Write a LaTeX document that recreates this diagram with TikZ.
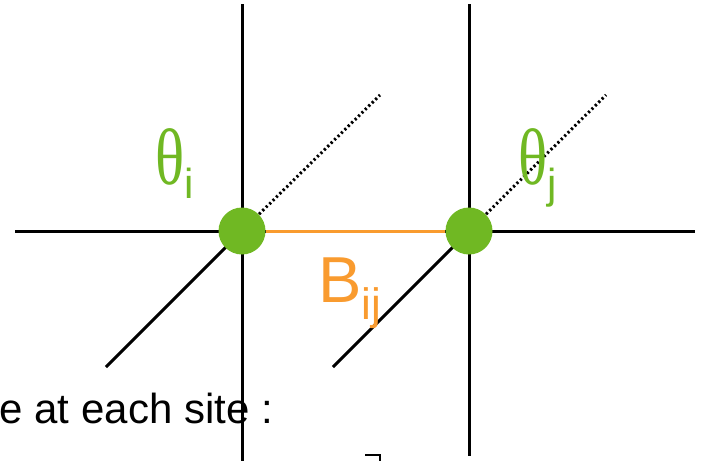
\documentclass[tikz,border=0pt]{standalone}
\usepackage{fontspec}
\setmainfont{Liberation Sans}
\newfontfamily\greekfont[FakeStretch=0.76]{Liberation Serif}
\usetikzlibrary{positioning}
\definecolor{SiteGreen}{HTML}{70B823}
\definecolor{BondOrange}{HTML}{F99B2F}
\definecolor{Ink}{HTML}{000000}

\begin{document}
\begin{tikzpicture}[x=1pt,y=-1pt,
    site/.style={circle,fill=SiteGreen,minimum size=47pt,inner sep=0pt},
    lattice/.style={Ink,line width=3pt},
    depth/.style={Ink,line width=3pt,dash pattern=on 2.2pt off 2.6pt},
    label/.style={anchor=base west,inner sep=0pt}]
    \useasboundingbox (0,0) rectangle (706,461);
    % lattice sites and the lines through them
    \coordinate (ci) at (242,231);
    \coordinate (cj) at (469,231);
    \coordinate (topi) at (242,4);
    \coordinate (boti) at (242,461);
    \coordinate (topj) at (469,4);
    \coordinate (botj) at (469,456);
    \coordinate (west) at (15,231);
    \coordinate (east) at (695,231);
    \coordinate (fronti) at (106,367);
    \coordinate (backi) at (380,95);
    \coordinate (frontj) at (333,367);
    \coordinate (backj) at (606,95);
    \draw[lattice] (west) -- (east);
    \foreach \s in {i,j}{
      \draw[lattice] (top\s) -- (bot\s);
      \draw[lattice] (front\s) -- (c\s);
      \draw[depth] (c\s) -- (back\s);
    }
    \node[site] (si) at (ci) {};
    \node[site] (sj) at (cj) {};
    \draw[BondOrange,line width=3pt] (si) -- (sj);
    % labels
    \node[label,text=SiteGreen,font=\fontsize{80}{80}\selectfont] (thi) at (155,184)
      {{\greekfont θ}\raisebox{-14pt}{\fontsize{42}{42}\selectfont i}};
    \node[label,text=SiteGreen,font=\fontsize{80}{80}\selectfont] (thj) at (518,184)
      {{\greekfont θ}\raisebox{-14pt}{\fontsize{42}{42}\selectfont j}};
    \node[label,text=BondOrange,font=\fontsize{65}{65}\selectfont] (bij) at (318,302)
      {B\raisebox{-17pt}{\fontsize{44}{44}\selectfont ij}};
    \node[anchor=base east,inner sep=0pt,font=\fontsize{42}{46}\selectfont] (caption) at (273,423)
      {e at each site :};
    \draw[Ink,line width=2pt] (365,455) -- (380,455) -- (380,461);
\end{tikzpicture}
\end{document}
